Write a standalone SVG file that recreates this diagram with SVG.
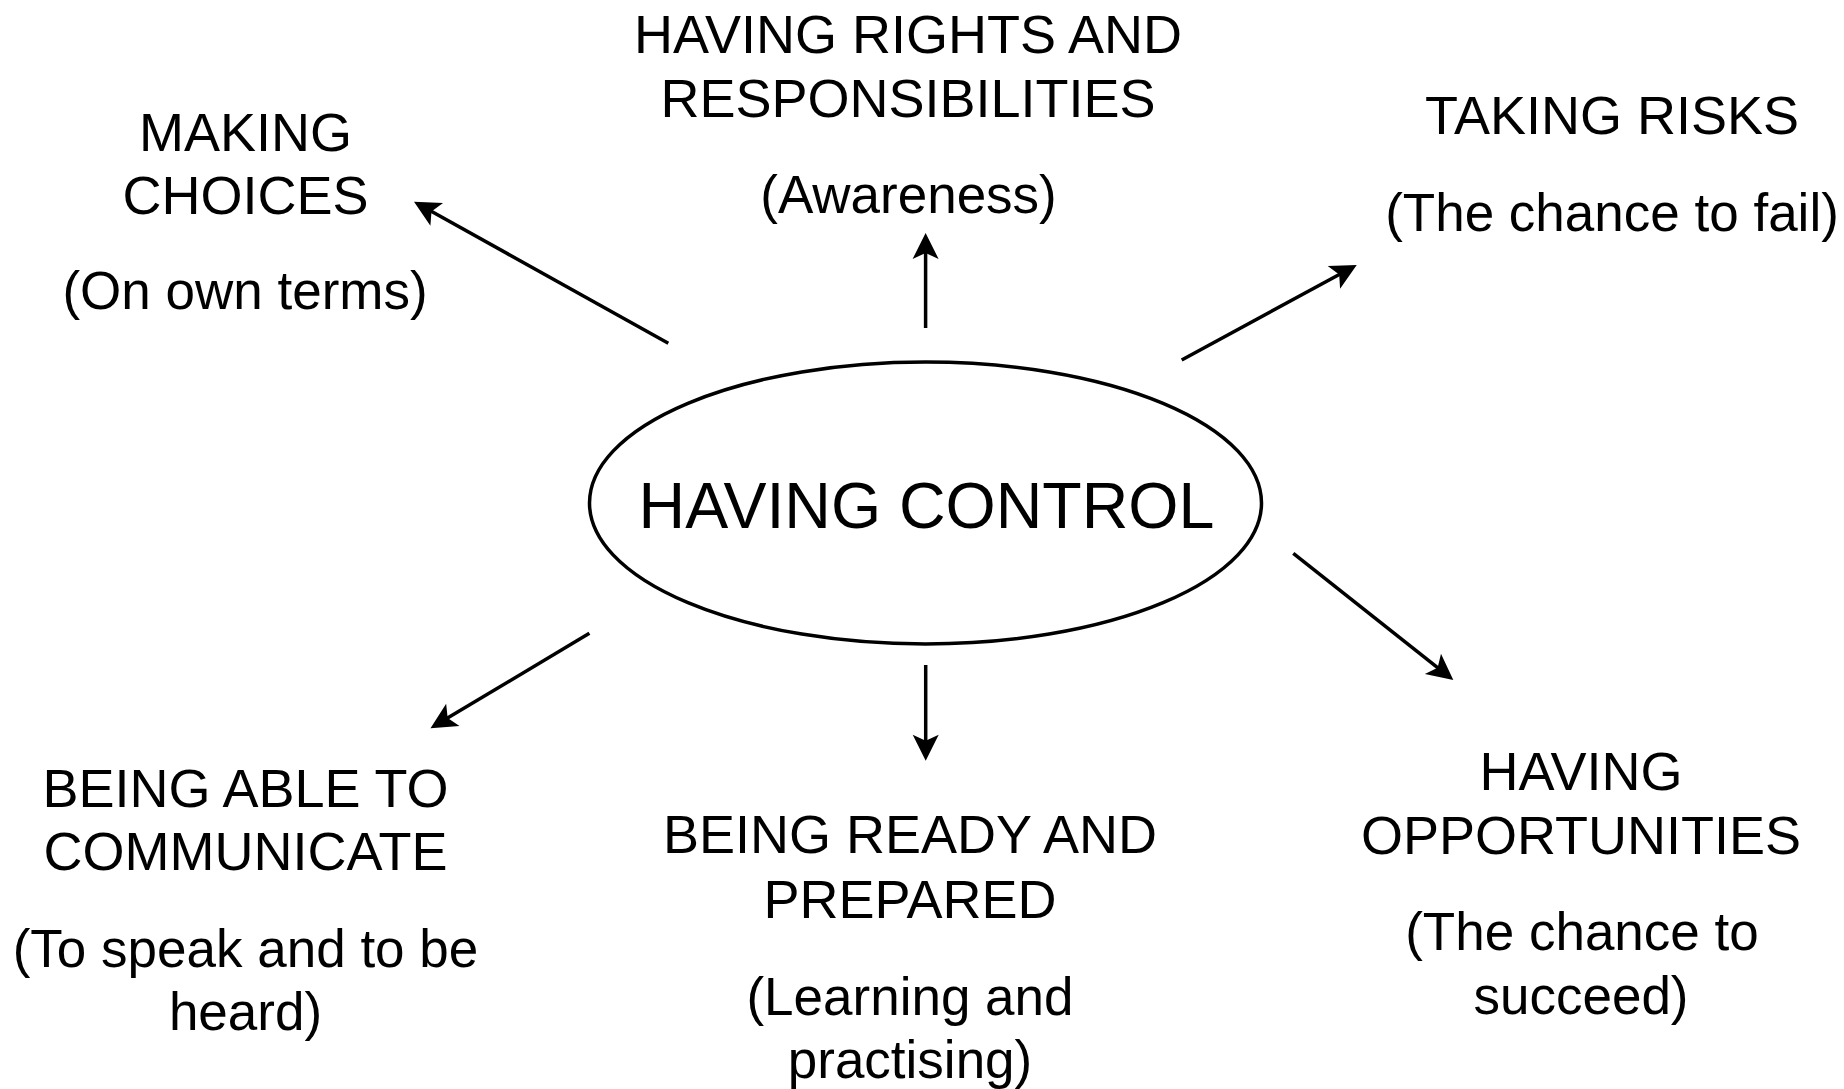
<svg xmlns="http://www.w3.org/2000/svg" width="1844" height="1089" viewBox="0 0 1844 1089">
<style>
text{font-family:"Liberation Sans",Arial,sans-serif;fill:#000;text-anchor:middle}
.lbl{font-size:54px}
.sub{font-size:53px}
.main{font-size:64.5px}
.conn{stroke:#000;stroke-width:3.5;fill:none;marker-end:url(#ah)}
</style>
<defs>
<marker id="ah" markerUnits="userSpaceOnUse" markerWidth="40" markerHeight="40" viewBox="-20 -20 40 40" refX="0" refY="0" orient="auto">
<path d="M12,0 L-14,-13 L-8,0 L-14,13 Z" fill="#000"/>
</marker>
</defs>
<rect width="1844" height="1089" fill="#fff"/>
<g id="connectors">
<line class="conn" x1="668.3" y1="343.3" x2="424.5" y2="207.5"/>
<line class="conn" x1="925.6" y1="328" x2="925.6" y2="245"/>
<line class="conn" x1="1181.7" y1="360" x2="1346.2" y2="270.7"/>
<line class="conn" x1="1293.3" y1="553.3" x2="1443.9" y2="672.6"/>
<line class="conn" x1="925.7" y1="665" x2="925.7" y2="748.7"/>
<line class="conn" x1="589.4" y1="633.3" x2="440.8" y2="722.1"/>
</g>
<g id="center">
<ellipse cx="925.5" cy="503" rx="336" ry="141" fill="none" stroke="#000" stroke-width="3.5"/>
<text class="main" x="926.5" y="528">HAVING CONTROL</text>
</g>
<g id="making-choices">
<text class="lbl" x="245.5" y="151">MAKING</text>
<text class="lbl" x="245.5" y="214">CHOICES</text>
<text class="sub" x="245" y="309">(On own terms)</text>
</g>
<g id="rights">
<text class="lbl" x="908" y="53.3">HAVING RIGHTS AND</text>
<text class="lbl" x="908" y="117.3">RESPONSIBILITIES</text>
<text class="sub" x="908.5" y="213.3">(Awareness)</text>
</g>
<g id="risks">
<text class="lbl" x="1612" y="134">TAKING RISKS</text>
<text class="sub" x="1612" y="230.7">(The chance to fail)</text>
</g>
<g id="communicate">
<text class="lbl" x="245.5" y="806.7">BEING ABLE TO</text>
<text class="lbl" x="245.5" y="870">COMMUNICATE</text>
<text class="sub" x="245.5" y="966.7">(To speak and to be</text>
<text class="sub" x="245.5" y="1030">heard)</text>
</g>
<g id="ready">
<text class="lbl" x="910" y="853.3">BEING READY AND</text>
<text class="lbl" x="910" y="918.3">PREPARED</text>
<text class="sub" x="910" y="1015">(Learning and</text>
<text class="sub" x="910" y="1078.3">practising)</text>
</g>
<g id="opportunities">
<text class="lbl" x="1581" y="790">HAVING</text>
<text class="lbl" x="1581" y="854">OPPORTUNITIES</text>
<text class="sub" x="1582" y="950">(The chance to</text>
<text class="sub" x="1581" y="1014">succeed)</text>
</g>
</svg>
